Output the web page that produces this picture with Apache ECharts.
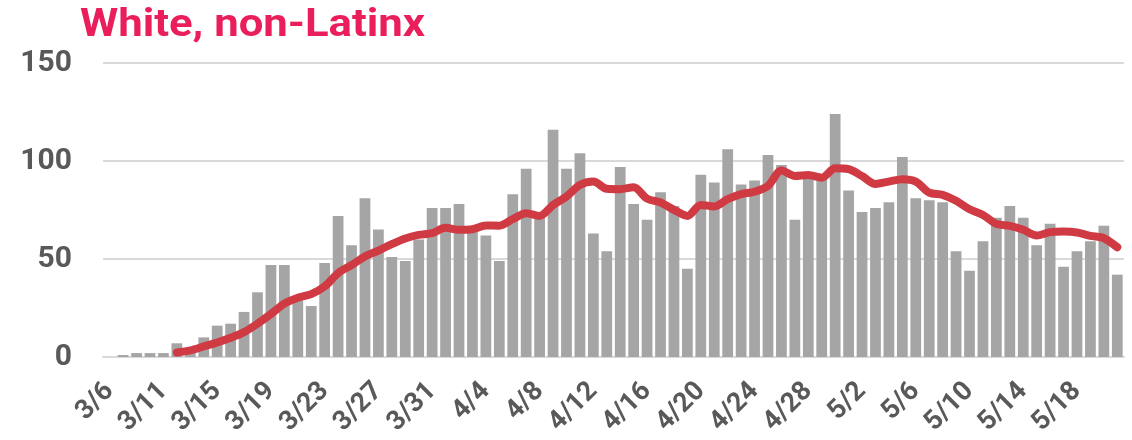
<!DOCTYPE html>
<html>
<head>
<meta charset="utf-8">
<script src="https://cdn.jsdelivr.net/npm/echarts@6/dist/echarts.min.js"></script>
<style>
  html, body { margin: 0; padding: 0; background: #fff; }
  #chart { width: 1132px; height: 440px; }
</style>
</head>
<body>
<div id="chart"></div>
<script>
// daily dates (3/7 is missing in the source sheet)
var days = ['3/6', '3/8', '3/9', '3/10', '3/11', '3/12', '3/13', '3/14', '3/15', '3/16',
    '3/17', '3/18', '3/19', '3/20', '3/21', '3/22', '3/23', '3/24', '3/25', '3/26',
    '3/27', '3/28', '3/29', '3/30', '3/31', '4/1', '4/2', '4/3', '4/4', '4/5',
    '4/6', '4/7', '4/8', '4/9', '4/10', '4/11', '4/12', '4/13', '4/14', '4/15',
    '4/16', '4/17', '4/18', '4/19', '4/20', '4/21', '4/22', '4/23', '4/24', '4/25',
    '4/26', '4/27', '4/28', '4/29', '4/30', '5/1', '5/2', '5/3', '5/4', '5/5',
    '5/6', '5/7', '5/8', '5/9', '5/10', '5/11', '5/12', '5/13', '5/14', '5/15',
    '5/16', '5/17', '5/18', '5/19', '5/20', '5/21'];

// daily counts (bars)
var daily = [0, 1, 2, 2, 2, 7, 4, 10, 16, 17,
    23, 33, 47, 47, 29, 26, 48, 72, 57, 81,
    65, 51, 49, 60, 76, 76, 78, 64, 62, 49,
    83, 96, 71, 116, 96, 104, 63, 54, 97, 78,
    70, 84, 77, 45, 93, 89, 106, 88, 90, 103,
    98, 70, 92, 93, 124, 85, 74, 76, 79, 102,
    81, 80, 79, 54, 44, 59, 71, 77, 71, 57,
    68, 46, 54, 59, 67, 42];

// rolling average (line)
var rolling = [null, null, null, null, null, 2.3, 3.4, 5.4, 7.4, 9.8,
    12.7, 17, 21.9, 27.2, 30.2, 32.1, 36, 42.8, 46.9, 51.3,
    54.3, 57.6, 60.5, 62.3, 63.2, 65.9, 64.9, 65.2, 67.1, 67,
    70.3, 73.4, 72, 77.5, 81.9, 87.8, 89.5, 85.8, 85.6, 86.6,
    80.8, 78.8, 75.1, 72, 77.6, 76.8, 80.5, 83.1, 84.3, 87.3,
    95.1, 92.4, 92.9, 91.5, 96.3, 95.8, 92.3, 88.3, 89.5, 90.7,
    89.5, 83.9, 82.7, 79.7, 75.4, 72.5, 67.9, 66.9, 64.9, 62,
    63.7, 64, 63.5, 61.8, 60.6, 56];

var yTicks = [0, 50, 100, 150];

var titleText = 'White, non-Latinx';
var titleFont = 'bold 39px Roboto';
// squeeze the title to the narrow width of the original heading
var ctx = document.createElement('canvas').getContext('2d');
ctx.font = titleFont;
var titleScale = 345 / ctx.measureText(titleText).width;

var myChart = echarts.init(document.getElementById('chart'));

var option = {
    animation: false,
    graphic: [{
        type: 'text',
        x: 80,
        y: 26,
        scaleX: titleScale,
        style: {
            text: titleText,
            font: titleFont,
            fill: '#e91e5a',
            verticalAlign: 'middle'
        }
    }],
    grid: {
        left: 103,
        right: 8,
        top: 63,
        bottom: 83,
        containLabel: false,
        outerBoundsMode: 'none'
    },
    xAxis: {
        type: 'category',
        data: days,
        axisTick: { show: false },
        axisLine: { lineStyle: { color: '#d9d9d9', width: 2 } },
        axisLabel: {
            interval: 3,
            rotate: 45,
            margin: 30,
            hideOverlap: false,
            fontFamily: 'Roboto',
            fontWeight: 'bold',
            fontSize: 27,
            color: '#595959'
        }
    },
    yAxis: {
        type: 'value',
        min: yTicks[0],
        max: yTicks[yTicks.length - 1],
        interval: 50,
        axisLine: { show: false },
        axisTick: { show: false },
        splitLine: { lineStyle: { color: '#d9d9d9', width: 2 } },
        axisLabel: {
            margin: 31,
            fontFamily: 'Roboto',
            fontWeight: 'bold',
            fontSize: 30,
            color: '#595959'
        }
    },
    series: [
        {
            name: 'daily',
            type: 'bar',
            data: daily,
            barCategoryGap: '20%',
            itemStyle: { color: '#a5a5a5' }
        },
        {
            name: 'avg',
            type: 'line',
            data: rolling,
            smooth: 0.3,
            showSymbol: false,
            lineStyle: { color: '#cf3a43', width: 8, cap: 'round', join: 'round' }
        }
    ]
};

myChart.setOption(option);
</script>
</body>
</html>
